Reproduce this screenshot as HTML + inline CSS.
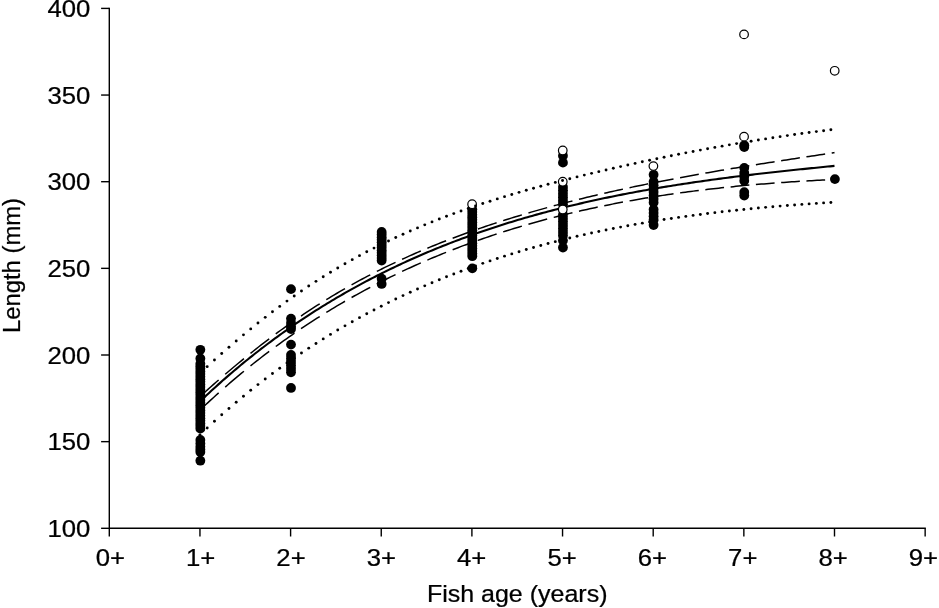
<!DOCTYPE html>
<html lang="en"><head><meta charset="utf-8"><title>Fish length at age</title>
<style>html,body{margin:0;padding:0;background:#fff}body{width:939px;height:608px;overflow:hidden}svg{display:block}text{font-family:"Liberation Sans",Arial,Helvetica,sans-serif;fill:#000}</style></head><body>
<svg width="939" height="608" viewBox="0 0 939 608">
<rect width="939" height="608" fill="#fff"/>
<g stroke="#000" stroke-width="1.4" fill="none" stroke-linecap="butt">
<path d="M109.3,7.70 V528.30 H925.85"/>
<path d="M101.10,528.30 H109.3"/>
<path d="M101.10,441.65 H109.3"/>
<path d="M101.10,355.00 H109.3"/>
<path d="M101.10,268.35 H109.3"/>
<path d="M101.10,181.70 H109.3"/>
<path d="M101.10,95.05 H109.3"/>
<path d="M101.10,8.40 H109.3"/>
<path d="M109.30,528.3 V536.50"/>
<path d="M199.95,528.3 V536.50"/>
<path d="M290.60,528.3 V536.50"/>
<path d="M381.25,528.3 V536.50"/>
<path d="M471.90,528.3 V536.50"/>
<path d="M562.55,528.3 V536.50"/>
<path d="M653.20,528.3 V536.50"/>
<path d="M743.85,528.3 V536.50"/>
<path d="M834.50,528.3 V536.50"/>
<path d="M925.15,528.3 V536.50"/>
</g>
<g font-size="23.7" stroke="#000" stroke-width="0.25">
<text transform="translate(90.4,536.80) scale(1.085,1)" text-anchor="end">100</text>
<text transform="translate(90.4,450.15) scale(1.085,1)" text-anchor="end">150</text>
<text transform="translate(90.4,363.50) scale(1.085,1)" text-anchor="end">200</text>
<text transform="translate(90.4,276.85) scale(1.085,1)" text-anchor="end">250</text>
<text transform="translate(90.4,190.20) scale(1.085,1)" text-anchor="end">300</text>
<text transform="translate(90.4,103.55) scale(1.085,1)" text-anchor="end">350</text>
<text transform="translate(90.4,16.90) scale(1.085,1)" text-anchor="end">400</text>
<text transform="translate(110.30,566) scale(1.085,1)" text-anchor="middle">0+</text>
<text transform="translate(200.65,566) scale(1.085,1)" text-anchor="middle">1+</text>
<text transform="translate(291.00,566) scale(1.085,1)" text-anchor="middle">2+</text>
<text transform="translate(381.35,566) scale(1.085,1)" text-anchor="middle">3+</text>
<text transform="translate(471.70,566) scale(1.085,1)" text-anchor="middle">4+</text>
<text transform="translate(562.05,566) scale(1.085,1)" text-anchor="middle">5+</text>
<text transform="translate(652.40,566) scale(1.085,1)" text-anchor="middle">6+</text>
<text transform="translate(742.75,566) scale(1.085,1)" text-anchor="middle">7+</text>
<text transform="translate(833.10,566) scale(1.085,1)" text-anchor="middle">8+</text>
<text transform="translate(923.45,566) scale(1.085,1)" text-anchor="middle">9+</text>
<text transform="translate(517.2,601.7) scale(1.055,1)" text-anchor="middle">Fish age (years)</text>
<text transform="translate(19.6,265.5) rotate(-90) scale(1.005,1)" text-anchor="middle">Length (mm)</text>
</g>
<path d="M199.95,401.48 L202.22,399.32 L204.50,397.17 L206.77,395.04 L209.05,392.93 L211.32,390.83 L213.60,388.75 L215.87,386.69 L218.14,384.64 L220.42,382.61 L222.69,380.59 L224.97,378.59 L227.24,376.61 L229.52,374.65 L231.79,372.69 L234.07,370.76 L236.34,368.84 L238.61,366.93 L240.89,365.04 L243.16,363.17 L245.44,361.31 L247.71,359.47 L249.99,357.63 L252.26,355.82 L254.53,354.02 L256.81,352.23 L259.08,350.46 L261.36,348.70 L263.63,346.96 L265.91,345.23 L268.18,343.51 L270.46,341.81 L272.73,340.12 L275.00,338.44 L277.28,336.78 L279.55,335.13 L281.83,333.50 L284.10,331.88 L286.38,330.27 L288.65,328.67 L290.92,327.09 L293.20,325.52 L295.47,323.96 L297.75,322.41 L300.02,320.88 L302.30,319.36 L304.57,317.85 L306.85,316.35 L309.12,314.87 L311.39,313.40 L313.67,311.94 L315.94,310.49 L318.22,309.05 L320.49,307.63 L322.77,306.21 L325.04,304.81 L327.31,303.42 L329.59,302.04 L331.86,300.67 L334.14,299.32 L336.41,297.97 L338.69,296.64 L340.96,295.31 L343.24,294.00 L345.51,292.70 L347.78,291.40 L350.06,290.12 L352.33,288.85 L354.61,287.59 L356.88,286.34 L359.16,285.10 L361.43,283.87 L363.70,282.65 L365.98,281.44 L368.25,280.24 L370.53,279.05 L372.80,277.88 L375.08,276.71 L377.35,275.54 L379.63,274.39 L381.90,273.25 L384.17,272.12 L386.45,271.00 L388.72,269.89 L391.00,268.78 L393.27,267.69 L395.55,266.60 L397.82,265.53 L400.09,264.46 L402.37,263.40 L404.64,262.35 L406.92,261.31 L409.19,260.28 L411.47,259.26 L413.74,258.24 L416.02,257.23 L418.29,256.24 L420.56,255.25 L422.84,254.27 L425.11,253.29 L427.39,252.33 L429.66,251.37 L431.94,250.43 L434.21,249.49 L436.48,248.55 L438.76,247.63 L441.03,246.71 L443.31,245.80 L445.58,244.90 L447.86,244.01 L450.13,243.13 L452.41,242.25 L454.68,241.38 L456.95,240.52 L459.23,239.66 L461.50,238.81 L463.78,237.97 L466.05,237.14 L468.33,236.31 L470.60,235.49 L472.87,234.68 L475.15,233.88 L477.42,233.08 L479.70,232.29 L481.97,231.51 L484.25,230.73 L486.52,229.96 L488.80,229.20 L491.07,228.44 L493.34,227.69 L495.62,226.94 L497.89,226.21 L500.17,225.48 L502.44,224.75 L504.72,224.04 L506.99,223.32 L509.26,222.62 L511.54,221.92 L513.81,221.23 L516.09,220.54 L518.36,219.86 L520.64,219.19 L522.91,218.52 L525.19,217.86 L527.46,217.20 L529.73,216.55 L532.01,215.91 L534.28,215.27 L536.56,214.63 L538.83,214.01 L541.11,213.38 L543.38,212.77 L545.65,212.16 L547.93,211.55 L550.20,210.95 L552.48,210.36 L554.75,209.77 L557.03,209.19 L559.30,208.61 L561.58,208.04 L563.85,207.47 L566.12,206.91 L568.40,206.35 L570.67,205.80 L572.95,205.25 L575.22,204.71 L577.50,204.17 L579.77,203.64 L582.04,203.11 L584.32,202.59 L586.59,202.07 L588.87,201.56 L591.14,201.05 L593.42,200.54 L595.69,200.05 L597.97,199.55 L600.24,199.06 L602.51,198.58 L604.79,198.09 L607.06,197.62 L609.34,197.15 L611.61,196.68 L613.89,196.21 L616.16,195.76 L618.43,195.30 L620.71,194.85 L622.98,194.40 L625.26,193.96 L627.53,193.52 L629.81,193.09 L632.08,192.66 L634.36,192.23 L636.63,191.81 L638.90,191.39 L641.18,190.98 L643.45,190.57 L645.73,190.16 L648.00,189.75 L650.28,189.35 L652.55,188.96 L654.82,188.57 L657.10,188.18 L659.37,187.79 L661.65,187.41 L663.92,187.03 L666.20,186.66 L668.47,186.29 L670.75,185.92 L673.02,185.55 L675.29,185.19 L677.57,184.83 L679.84,184.48 L682.12,184.13 L684.39,183.78 L686.67,183.43 L688.94,183.09 L691.21,182.75 L693.49,182.41 L695.76,182.08 L698.04,181.75 L700.31,181.42 L702.59,181.10 L704.86,180.78 L707.14,180.46 L709.41,180.14 L711.68,179.83 L713.96,179.52 L716.23,179.21 L718.51,178.90 L720.78,178.60 L723.06,178.30 L725.33,178.00 L727.60,177.70 L729.88,177.41 L732.15,177.12 L734.43,176.83 L736.70,176.54 L738.98,176.26 L741.25,175.98 L743.53,175.70 L745.80,175.42 L748.07,175.15 L750.35,174.87 L752.62,174.60 L754.90,174.33 L757.17,174.07 L759.45,173.80 L761.72,173.54 L763.99,173.28 L766.27,173.02 L768.54,172.76 L770.82,172.50 L773.09,172.25 L775.37,172.00 L777.64,171.75 L779.92,171.50 L782.19,171.25 L784.46,171.00 L786.74,170.76 L789.01,170.52 L791.29,170.28 L793.56,170.04 L795.84,169.80 L798.11,169.56 L800.38,169.32 L802.66,169.09 L804.93,168.86 L807.21,168.62 L809.48,168.39 L811.76,168.16 L814.03,167.93 L816.31,167.71 L818.58,167.48 L820.85,167.26 L823.13,167.03 L825.40,166.81 L827.68,166.58 L829.95,166.36 L832.23,166.14 L834.50,165.92" fill="none" stroke="#000" stroke-width="2.1"/>
<path d="M199.95,396.65 L202.62,394.21 L205.29,391.80 L207.96,389.39 L210.64,387.01 L213.31,384.64 L215.98,382.29 L218.65,379.95 M225.22,374.27 L227.89,371.99 L230.56,369.72 L233.23,367.48 L235.91,365.25 L238.58,363.03 L241.25,360.83 L243.92,358.65 M250.49,353.35 L253.16,351.23 L255.83,349.12 L258.50,347.03 L261.18,344.95 L263.85,342.90 L266.52,340.86 L269.19,338.83 M275.76,333.93 L278.43,331.96 L281.10,330.01 L283.77,328.08 L286.45,326.17 L289.12,324.27 L291.79,322.39 L294.46,320.53 M301.03,316.02 L303.70,314.22 L306.37,312.43 L309.04,310.66 L311.72,308.92 L314.39,307.18 L317.06,305.47 L319.73,303.77 M326.30,299.67 L328.97,298.04 L331.64,296.42 L334.31,294.81 L336.99,293.23 L339.66,291.66 L342.33,290.11 L345.00,288.57 M351.57,284.86 L354.24,283.38 L356.91,281.91 L359.58,280.46 L362.26,279.02 L364.93,277.60 L367.60,276.19 L370.27,274.80 M376.84,271.44 L379.51,270.10 L382.18,268.77 L384.85,267.45 L387.53,266.15 L390.20,264.86 L392.87,263.59 L395.54,262.33 M402.11,259.28 L404.78,258.06 L407.45,256.85 L410.12,255.66 L412.80,254.48 L415.47,253.31 L418.14,252.15 L420.81,251.01 M427.38,248.24 L430.05,247.13 L432.72,246.04 L435.39,244.95 L438.07,243.88 L440.74,242.81 L443.41,241.76 L446.08,240.72 M452.65,238.20 L455.32,237.19 L457.99,236.19 L460.66,235.20 L463.34,234.22 L466.01,233.25 L468.68,232.29 L471.35,231.34 M477.92,229.03 L480.59,228.11 L483.26,227.20 L485.93,226.29 L488.61,225.40 L491.28,224.51 L493.95,223.63 L496.62,222.75 M503.19,220.64 L505.86,219.79 L508.53,218.95 L511.20,218.12 L513.88,217.30 L516.55,216.48 L519.22,215.67 L521.89,214.87 M528.46,212.93 L531.13,212.15 L533.80,211.38 L536.47,210.61 L539.15,209.86 L541.82,209.11 L544.49,208.36 L547.16,207.62 M553.73,205.84 L556.40,205.12 L559.07,204.41 L561.74,203.71 L564.42,203.01 L567.09,202.32 L569.76,201.63 L572.43,200.95 M579.00,199.31 L581.67,198.65 L584.34,197.99 L587.01,197.34 L589.69,196.70 L592.36,196.06 L595.03,195.43 L597.70,194.80 M604.27,193.28 L606.94,192.67 L609.61,192.06 L612.28,191.46 L614.96,190.86 L617.63,190.27 L620.30,189.69 L622.97,189.11 M629.54,187.69 L632.21,187.13 L634.88,186.57 L637.55,186.01 L640.23,185.46 L642.90,184.91 L645.57,184.36 L648.24,183.82 M654.81,182.51 L657.48,181.98 L660.15,181.45 L662.82,180.93 L665.50,180.42 L668.17,179.91 L670.84,179.40 L673.51,178.89 M680.08,177.66 L682.75,177.17 L685.42,176.68 L688.09,176.19 L690.77,175.70 L693.44,175.22 L696.11,174.74 L698.78,174.27 M705.35,173.11 L708.02,172.64 L710.69,172.18 L713.36,171.72 L716.04,171.26 L718.71,170.80 L721.38,170.35 L724.05,169.90 M730.62,168.80 L733.29,168.36 L735.96,167.91 L738.63,167.48 L741.31,167.04 L743.98,166.60 L746.65,166.17 L749.32,165.74 M755.89,164.68 L758.56,164.26 L761.23,163.84 L763.90,163.41 L766.58,162.99 L769.25,162.57 L771.92,162.15 L774.59,161.74 M781.16,160.72 L783.83,160.31 L786.50,159.89 L789.17,159.48 L791.85,159.07 L794.52,158.66 L797.19,158.26 L799.86,157.85 M806.43,156.85 L809.10,156.44 L811.77,156.04 L814.44,155.64 L817.12,155.23 L819.79,154.83 L822.46,154.43 L825.13,154.02 M831.70,153.03 L832.10,152.97 L832.50,152.91 L832.90,152.85 L833.30,152.79 L833.70,152.73 L834.10,152.67 L834.50,152.61" fill="none" stroke="#000" stroke-width="1.5"/>
<path d="M199.95,410.11 L202.62,407.58 L205.29,405.07 L207.96,402.58 L210.64,400.12 L213.31,397.68 L215.98,395.26 L218.65,392.86 M225.22,387.06 L227.89,384.73 L230.56,382.43 L233.23,380.15 L235.91,377.89 L238.58,375.65 L241.25,373.43 L243.92,371.23 M250.49,365.91 L253.16,363.78 L255.83,361.66 L258.50,359.57 L261.18,357.50 L263.85,355.45 L266.52,353.41 L269.19,351.39 M275.76,346.51 L278.43,344.56 L281.10,342.62 L283.77,340.70 L286.45,338.80 L289.12,336.92 L291.79,335.05 L294.46,333.20 M301.03,328.73 L303.70,326.94 L306.37,325.16 L309.04,323.40 L311.72,321.66 L314.39,319.94 L317.06,318.23 L319.73,316.53 M326.30,312.43 L328.97,310.79 L331.64,309.17 L334.31,307.56 L336.99,305.96 L339.66,304.38 L342.33,302.82 L345.00,301.27 M351.57,297.52 L354.24,296.02 L356.91,294.53 L359.58,293.06 L362.26,291.60 L364.93,290.16 L367.60,288.72 L370.27,287.31 M376.84,283.88 L379.51,282.51 L382.18,281.15 L384.85,279.81 L387.53,278.47 L390.20,277.15 L392.87,275.85 L395.54,274.55 M402.11,271.43 L404.78,270.17 L407.45,268.94 L410.12,267.71 L412.80,266.50 L415.47,265.29 L418.14,264.10 L420.81,262.92 M427.38,260.07 L430.05,258.93 L432.72,257.81 L435.39,256.69 L438.07,255.59 L440.74,254.49 L443.41,253.41 L446.08,252.34 M452.65,249.75 L455.32,248.71 L457.99,247.69 L460.66,246.67 L463.34,245.67 L466.01,244.68 L468.68,243.69 L471.35,242.72 M477.92,240.37 L480.59,239.43 L483.26,238.51 L485.93,237.59 L488.61,236.68 L491.28,235.78 L493.95,234.89 L496.62,234.01 M503.19,231.89 L505.86,231.04 L508.53,230.20 L511.20,229.38 L513.88,228.56 L516.55,227.74 L519.22,226.94 L521.89,226.15 M528.46,224.24 L531.13,223.47 L533.80,222.72 L536.47,221.97 L539.15,221.24 L541.82,220.51 L544.49,219.79 L547.16,219.08 M553.73,217.36 L556.40,216.68 L559.07,216.00 L561.74,215.33 L564.42,214.67 L567.09,214.02 L569.76,213.38 L572.43,212.74 M579.00,211.21 L581.67,210.60 L584.34,209.99 L587.01,209.40 L589.69,208.81 L592.36,208.23 L595.03,207.66 L597.70,207.09 M604.27,205.73 L606.94,205.18 L609.61,204.65 L612.28,204.12 L614.96,203.60 L617.63,203.09 L620.30,202.58 L622.97,202.08 M629.54,200.88 L632.21,200.40 L634.88,199.93 L637.55,199.46 L640.23,199.00 L642.90,198.55 L645.57,198.10 L648.24,197.66 M654.81,196.61 L657.48,196.19 L660.15,195.78 L662.82,195.37 L665.50,194.97 L668.17,194.58 L670.84,194.19 L673.51,193.80 M680.08,192.88 L682.75,192.52 L685.42,192.16 L688.09,191.81 L690.77,191.46 L693.44,191.12 L696.11,190.78 L698.78,190.45 M705.35,189.66 L708.02,189.35 L710.69,189.04 L713.36,188.73 L716.04,188.44 L718.71,188.14 L721.38,187.85 L724.05,187.57 M730.62,186.89 L733.29,186.63 L735.96,186.36 L738.63,186.11 L741.31,185.85 L743.98,185.60 L746.65,185.36 L749.32,185.12 M755.89,184.55 L758.56,184.32 L761.23,184.10 L763.90,183.89 L766.58,183.67 L769.25,183.46 L771.92,183.26 L774.59,183.06 M781.16,182.58 L783.83,182.40 L786.50,182.21 L789.17,182.03 L791.85,181.86 L794.52,181.68 L797.19,181.52 L799.86,181.35 M806.43,180.96 L809.10,180.81 L811.77,180.66 L814.44,180.51 L817.12,180.36 L819.79,180.22 L822.46,180.09 L825.13,179.95 M831.70,179.64 L832.10,179.62 L832.50,179.60 L832.90,179.58 L833.30,179.56 L833.70,179.54 L834.10,179.52 L834.50,179.51" fill="none" stroke="#000" stroke-width="1.5"/>
<g fill="#000">
<circle cx="200.35" cy="349.80" r="4.9"/>
<circle cx="200.35" cy="358.47" r="4.9"/>
<circle cx="200.35" cy="363.66" r="4.9"/>
<circle cx="200.35" cy="366.26" r="4.9"/>
<circle cx="200.35" cy="368.86" r="4.9"/>
<circle cx="200.35" cy="371.46" r="4.9"/>
<circle cx="200.35" cy="374.06" r="4.9"/>
<circle cx="200.35" cy="376.66" r="4.9"/>
<circle cx="200.35" cy="379.26" r="4.9"/>
<circle cx="200.35" cy="381.86" r="4.9"/>
<circle cx="200.35" cy="384.46" r="4.9"/>
<circle cx="200.35" cy="387.06" r="4.9"/>
<circle cx="200.35" cy="389.66" r="4.9"/>
<circle cx="200.35" cy="392.26" r="4.9"/>
<circle cx="200.35" cy="394.86" r="4.9"/>
<circle cx="200.35" cy="397.46" r="4.9"/>
<circle cx="200.35" cy="400.06" r="4.9"/>
<circle cx="200.35" cy="402.66" r="4.9"/>
<circle cx="200.35" cy="405.26" r="4.9"/>
<circle cx="200.35" cy="407.86" r="4.9"/>
<circle cx="200.35" cy="410.46" r="4.9"/>
<circle cx="200.35" cy="413.06" r="4.9"/>
<circle cx="200.35" cy="415.65" r="4.9"/>
<circle cx="200.35" cy="418.25" r="4.9"/>
<circle cx="200.35" cy="420.85" r="4.9"/>
<circle cx="200.35" cy="423.45" r="4.9"/>
<circle cx="200.35" cy="426.05" r="4.9"/>
<circle cx="200.35" cy="428.65" r="4.9"/>
<circle cx="200.35" cy="439.92" r="4.9"/>
<circle cx="200.35" cy="443.38" r="4.9"/>
<circle cx="200.35" cy="446.85" r="4.9"/>
<circle cx="200.35" cy="449.45" r="4.9"/>
<circle cx="200.35" cy="452.05" r="4.9"/>
<circle cx="200.35" cy="460.71" r="4.9"/>
<circle cx="291.00" cy="289.15" r="4.9"/>
<circle cx="291.00" cy="318.61" r="4.9"/>
<circle cx="291.00" cy="322.94" r="4.9"/>
<circle cx="291.00" cy="326.41" r="4.9"/>
<circle cx="291.00" cy="329.00" r="4.9"/>
<circle cx="291.00" cy="344.60" r="4.9"/>
<circle cx="291.00" cy="355.00" r="4.9"/>
<circle cx="291.00" cy="358.47" r="4.9"/>
<circle cx="291.00" cy="361.93" r="4.9"/>
<circle cx="291.00" cy="365.40" r="4.9"/>
<circle cx="291.00" cy="368.86" r="4.9"/>
<circle cx="291.00" cy="372.33" r="4.9"/>
<circle cx="291.00" cy="387.93" r="4.9"/>
<circle cx="381.65" cy="231.96" r="4.9"/>
<circle cx="381.65" cy="234.56" r="4.9"/>
<circle cx="381.65" cy="237.16" r="4.9"/>
<circle cx="381.65" cy="239.76" r="4.9"/>
<circle cx="381.65" cy="242.35" r="4.9"/>
<circle cx="381.65" cy="244.95" r="4.9"/>
<circle cx="381.65" cy="247.55" r="4.9"/>
<circle cx="381.65" cy="250.15" r="4.9"/>
<circle cx="381.65" cy="252.75" r="4.9"/>
<circle cx="381.65" cy="255.35" r="4.9"/>
<circle cx="381.65" cy="257.95" r="4.9"/>
<circle cx="381.65" cy="260.55" r="4.9"/>
<circle cx="381.65" cy="278.75" r="4.9"/>
<circle cx="381.65" cy="283.95" r="4.9"/>
<circle cx="472.30" cy="209.43" r="4.9"/>
<circle cx="472.30" cy="212.03" r="4.9"/>
<circle cx="472.30" cy="214.63" r="4.9"/>
<circle cx="472.30" cy="217.23" r="4.9"/>
<circle cx="472.30" cy="219.83" r="4.9"/>
<circle cx="472.30" cy="222.43" r="4.9"/>
<circle cx="472.30" cy="225.02" r="4.9"/>
<circle cx="472.30" cy="227.62" r="4.9"/>
<circle cx="472.30" cy="230.22" r="4.9"/>
<circle cx="472.30" cy="232.82" r="4.9"/>
<circle cx="472.30" cy="235.42" r="4.9"/>
<circle cx="472.30" cy="238.02" r="4.9"/>
<circle cx="472.30" cy="240.62" r="4.9"/>
<circle cx="472.30" cy="243.22" r="4.9"/>
<circle cx="472.30" cy="245.82" r="4.9"/>
<circle cx="472.30" cy="248.42" r="4.9"/>
<circle cx="472.30" cy="251.02" r="4.9"/>
<circle cx="472.30" cy="253.62" r="4.9"/>
<circle cx="472.30" cy="256.22" r="4.9"/>
<circle cx="472.30" cy="268.35" r="4.9"/>
<circle cx="562.95" cy="155.70" r="4.9"/>
<circle cx="562.95" cy="162.64" r="4.9"/>
<circle cx="562.95" cy="186.90" r="4.9"/>
<circle cx="562.95" cy="190.36" r="4.9"/>
<circle cx="562.95" cy="193.83" r="4.9"/>
<circle cx="562.95" cy="197.30" r="4.9"/>
<circle cx="562.95" cy="200.76" r="4.9"/>
<circle cx="562.95" cy="204.23" r="4.9"/>
<circle cx="562.95" cy="214.63" r="4.9"/>
<circle cx="562.95" cy="218.09" r="4.9"/>
<circle cx="562.95" cy="221.56" r="4.9"/>
<circle cx="562.95" cy="225.02" r="4.9"/>
<circle cx="562.95" cy="228.49" r="4.9"/>
<circle cx="562.95" cy="231.96" r="4.9"/>
<circle cx="562.95" cy="235.42" r="4.9"/>
<circle cx="562.95" cy="240.62" r="4.9"/>
<circle cx="562.95" cy="247.55" r="4.9"/>
<circle cx="653.60" cy="174.77" r="4.9"/>
<circle cx="653.60" cy="181.70" r="4.9"/>
<circle cx="653.60" cy="185.17" r="4.9"/>
<circle cx="653.60" cy="188.63" r="4.9"/>
<circle cx="653.60" cy="192.10" r="4.9"/>
<circle cx="653.60" cy="195.56" r="4.9"/>
<circle cx="653.60" cy="199.03" r="4.9"/>
<circle cx="653.60" cy="202.50" r="4.9"/>
<circle cx="653.60" cy="209.43" r="4.9"/>
<circle cx="653.60" cy="212.89" r="4.9"/>
<circle cx="653.60" cy="216.36" r="4.9"/>
<circle cx="653.60" cy="219.83" r="4.9"/>
<circle cx="653.60" cy="225.02" r="4.9"/>
<circle cx="744.25" cy="145.31" r="4.9"/>
<circle cx="744.25" cy="147.04" r="4.9"/>
<circle cx="744.25" cy="167.84" r="4.9"/>
<circle cx="744.25" cy="173.03" r="4.9"/>
<circle cx="744.25" cy="176.50" r="4.9"/>
<circle cx="744.25" cy="180.83" r="4.9"/>
<circle cx="744.25" cy="192.10" r="4.9"/>
<circle cx="744.25" cy="195.56" r="4.9"/>
<circle cx="834.90" cy="179.10" r="4.9"/>
</g>
<g fill="#fff" stroke="#000" stroke-width="1.2">
<circle cx="472.10" cy="204.23" r="4.30"/>
<circle cx="562.75" cy="150.51" r="4.30"/>
<circle cx="562.75" cy="181.70" r="4.30"/>
<circle cx="562.75" cy="209.43" r="4.30"/>
<circle cx="653.40" cy="166.10" r="4.30"/>
<circle cx="744.05" cy="34.39" r="4.30"/>
<circle cx="744.05" cy="136.64" r="4.30"/>
<circle cx="834.70" cy="70.79" r="4.30"/>
</g>
<g fill="#000">
<circle cx="199.95" cy="373.37" r="1.45"/>
<circle cx="207.20" cy="366.63" r="1.45"/>
<circle cx="214.45" cy="360.02" r="1.45"/>
<circle cx="221.71" cy="353.54" r="1.45"/>
<circle cx="228.96" cy="347.18" r="1.45"/>
<circle cx="236.21" cy="340.96" r="1.45"/>
<circle cx="243.46" cy="334.86" r="1.45"/>
<circle cx="250.71" cy="328.90" r="1.45"/>
<circle cx="257.97" cy="323.07" r="1.45"/>
<circle cx="265.22" cy="317.37" r="1.45"/>
<circle cx="272.47" cy="311.81" r="1.45"/>
<circle cx="279.72" cy="306.38" r="1.45"/>
<circle cx="286.97" cy="301.09" r="1.45"/>
<circle cx="294.23" cy="295.95" r="1.45"/>
<circle cx="301.48" cy="290.94" r="1.45"/>
<circle cx="308.73" cy="286.07" r="1.45"/>
<circle cx="315.98" cy="281.34" r="1.45"/>
<circle cx="323.23" cy="276.75" r="1.45"/>
<circle cx="330.49" cy="272.28" r="1.45"/>
<circle cx="337.74" cy="267.94" r="1.45"/>
<circle cx="344.99" cy="263.73" r="1.45"/>
<circle cx="352.24" cy="259.64" r="1.45"/>
<circle cx="359.49" cy="255.67" r="1.45"/>
<circle cx="366.75" cy="251.82" r="1.45"/>
<circle cx="374.00" cy="248.08" r="1.45"/>
<circle cx="381.25" cy="244.46" r="1.45"/>
<circle cx="388.50" cy="240.94" r="1.45"/>
<circle cx="395.75" cy="237.53" r="1.45"/>
<circle cx="403.01" cy="234.22" r="1.45"/>
<circle cx="410.26" cy="231.01" r="1.45"/>
<circle cx="417.51" cy="227.89" r="1.45"/>
<circle cx="424.76" cy="224.86" r="1.45"/>
<circle cx="432.01" cy="221.92" r="1.45"/>
<circle cx="439.27" cy="219.06" r="1.45"/>
<circle cx="446.52" cy="216.29" r="1.45"/>
<circle cx="453.77" cy="213.59" r="1.45"/>
<circle cx="461.02" cy="210.97" r="1.45"/>
<circle cx="468.27" cy="208.42" r="1.45"/>
<circle cx="475.53" cy="205.94" r="1.45"/>
<circle cx="482.78" cy="203.53" r="1.45"/>
<circle cx="490.03" cy="201.18" r="1.45"/>
<circle cx="497.28" cy="198.89" r="1.45"/>
<circle cx="504.53" cy="196.66" r="1.45"/>
<circle cx="511.79" cy="194.48" r="1.45"/>
<circle cx="519.04" cy="192.36" r="1.45"/>
<circle cx="526.29" cy="190.28" r="1.45"/>
<circle cx="533.54" cy="188.25" r="1.45"/>
<circle cx="540.79" cy="186.27" r="1.45"/>
<circle cx="548.05" cy="184.32" r="1.45"/>
<circle cx="555.30" cy="182.42" r="1.45"/>
<circle cx="562.55" cy="180.55" r="1.45"/>
<circle cx="569.80" cy="178.71" r="1.45"/>
<circle cx="577.05" cy="176.90" r="1.45"/>
<circle cx="584.31" cy="175.12" r="1.45"/>
<circle cx="591.56" cy="173.37" r="1.45"/>
<circle cx="598.81" cy="171.64" r="1.45"/>
<circle cx="606.06" cy="169.94" r="1.45"/>
<circle cx="613.31" cy="168.26" r="1.45"/>
<circle cx="620.57" cy="166.61" r="1.45"/>
<circle cx="627.82" cy="164.98" r="1.45"/>
<circle cx="635.07" cy="163.38" r="1.45"/>
<circle cx="642.32" cy="161.80" r="1.45"/>
<circle cx="649.57" cy="160.25" r="1.45"/>
<circle cx="656.83" cy="158.73" r="1.45"/>
<circle cx="664.08" cy="157.23" r="1.45"/>
<circle cx="671.33" cy="155.75" r="1.45"/>
<circle cx="678.58" cy="154.30" r="1.45"/>
<circle cx="685.83" cy="152.87" r="1.45"/>
<circle cx="693.09" cy="151.47" r="1.45"/>
<circle cx="700.34" cy="150.10" r="1.45"/>
<circle cx="707.59" cy="148.75" r="1.45"/>
<circle cx="714.84" cy="147.42" r="1.45"/>
<circle cx="722.09" cy="146.13" r="1.45"/>
<circle cx="729.35" cy="144.85" r="1.45"/>
<circle cx="736.60" cy="143.61" r="1.45"/>
<circle cx="743.85" cy="142.38" r="1.45"/>
<circle cx="751.10" cy="141.19" r="1.45"/>
<circle cx="758.35" cy="140.02" r="1.45"/>
<circle cx="765.61" cy="138.88" r="1.45"/>
<circle cx="772.86" cy="137.76" r="1.45"/>
<circle cx="780.11" cy="136.67" r="1.45"/>
<circle cx="787.36" cy="135.60" r="1.45"/>
<circle cx="794.61" cy="134.57" r="1.45"/>
<circle cx="801.87" cy="133.55" r="1.45"/>
<circle cx="809.12" cy="132.57" r="1.45"/>
<circle cx="816.37" cy="131.61" r="1.45"/>
<circle cx="823.62" cy="130.68" r="1.45"/>
<circle cx="830.87" cy="129.77" r="1.45"/>
<circle cx="199.95" cy="434.83" r="1.45"/>
<circle cx="207.20" cy="427.99" r="1.45"/>
<circle cx="214.45" cy="421.31" r="1.45"/>
<circle cx="221.71" cy="414.80" r="1.45"/>
<circle cx="228.96" cy="408.45" r="1.45"/>
<circle cx="236.21" cy="402.25" r="1.45"/>
<circle cx="243.46" cy="396.21" r="1.45"/>
<circle cx="250.71" cy="390.32" r="1.45"/>
<circle cx="257.97" cy="384.58" r="1.45"/>
<circle cx="265.22" cy="378.97" r="1.45"/>
<circle cx="272.47" cy="373.51" r="1.45"/>
<circle cx="279.72" cy="368.18" r="1.45"/>
<circle cx="286.97" cy="362.98" r="1.45"/>
<circle cx="294.23" cy="357.91" r="1.45"/>
<circle cx="301.48" cy="352.97" r="1.45"/>
<circle cx="308.73" cy="348.16" r="1.45"/>
<circle cx="315.98" cy="343.46" r="1.45"/>
<circle cx="323.23" cy="338.88" r="1.45"/>
<circle cx="330.49" cy="334.42" r="1.45"/>
<circle cx="337.74" cy="330.07" r="1.45"/>
<circle cx="344.99" cy="325.83" r="1.45"/>
<circle cx="352.24" cy="321.70" r="1.45"/>
<circle cx="359.49" cy="317.67" r="1.45"/>
<circle cx="366.75" cy="313.75" r="1.45"/>
<circle cx="374.00" cy="309.93" r="1.45"/>
<circle cx="381.25" cy="306.21" r="1.45"/>
<circle cx="388.50" cy="302.58" r="1.45"/>
<circle cx="395.75" cy="299.05" r="1.45"/>
<circle cx="403.01" cy="295.61" r="1.45"/>
<circle cx="410.26" cy="292.26" r="1.45"/>
<circle cx="417.51" cy="289.00" r="1.45"/>
<circle cx="424.76" cy="285.83" r="1.45"/>
<circle cx="432.01" cy="282.74" r="1.45"/>
<circle cx="439.27" cy="279.73" r="1.45"/>
<circle cx="446.52" cy="276.81" r="1.45"/>
<circle cx="453.77" cy="273.97" r="1.45"/>
<circle cx="461.02" cy="271.20" r="1.45"/>
<circle cx="468.27" cy="268.51" r="1.45"/>
<circle cx="475.53" cy="265.90" r="1.45"/>
<circle cx="482.78" cy="263.35" r="1.45"/>
<circle cx="490.03" cy="260.88" r="1.45"/>
<circle cx="497.28" cy="258.48" r="1.45"/>
<circle cx="504.53" cy="256.15" r="1.45"/>
<circle cx="511.79" cy="253.89" r="1.45"/>
<circle cx="519.04" cy="251.69" r="1.45"/>
<circle cx="526.29" cy="249.55" r="1.45"/>
<circle cx="533.54" cy="247.48" r="1.45"/>
<circle cx="540.79" cy="245.47" r="1.45"/>
<circle cx="548.05" cy="243.53" r="1.45"/>
<circle cx="555.30" cy="241.64" r="1.45"/>
<circle cx="562.55" cy="239.80" r="1.45"/>
<circle cx="569.80" cy="238.03" r="1.45"/>
<circle cx="577.05" cy="236.31" r="1.45"/>
<circle cx="584.31" cy="234.64" r="1.45"/>
<circle cx="591.56" cy="233.03" r="1.45"/>
<circle cx="598.81" cy="231.47" r="1.45"/>
<circle cx="606.06" cy="229.96" r="1.45"/>
<circle cx="613.31" cy="228.50" r="1.45"/>
<circle cx="620.57" cy="227.09" r="1.45"/>
<circle cx="627.82" cy="225.73" r="1.45"/>
<circle cx="635.07" cy="224.41" r="1.45"/>
<circle cx="642.32" cy="223.13" r="1.45"/>
<circle cx="649.57" cy="221.91" r="1.45"/>
<circle cx="656.83" cy="220.72" r="1.45"/>
<circle cx="664.08" cy="219.57" r="1.45"/>
<circle cx="671.33" cy="218.47" r="1.45"/>
<circle cx="678.58" cy="217.41" r="1.45"/>
<circle cx="685.83" cy="216.38" r="1.45"/>
<circle cx="693.09" cy="215.40" r="1.45"/>
<circle cx="700.34" cy="214.44" r="1.45"/>
<circle cx="707.59" cy="213.53" r="1.45"/>
<circle cx="714.84" cy="212.65" r="1.45"/>
<circle cx="722.09" cy="211.80" r="1.45"/>
<circle cx="729.35" cy="210.99" r="1.45"/>
<circle cx="736.60" cy="210.21" r="1.45"/>
<circle cx="743.85" cy="209.45" r="1.45"/>
<circle cx="751.10" cy="208.73" r="1.45"/>
<circle cx="758.35" cy="208.04" r="1.45"/>
<circle cx="765.61" cy="207.37" r="1.45"/>
<circle cx="772.86" cy="206.73" r="1.45"/>
<circle cx="780.11" cy="206.12" r="1.45"/>
<circle cx="787.36" cy="205.53" r="1.45"/>
<circle cx="794.61" cy="204.96" r="1.45"/>
<circle cx="801.87" cy="204.42" r="1.45"/>
<circle cx="809.12" cy="203.89" r="1.45"/>
<circle cx="816.37" cy="203.39" r="1.45"/>
<circle cx="823.62" cy="202.91" r="1.45"/>
<circle cx="830.87" cy="202.45" r="1.45"/>
</g>
</svg></body></html>
